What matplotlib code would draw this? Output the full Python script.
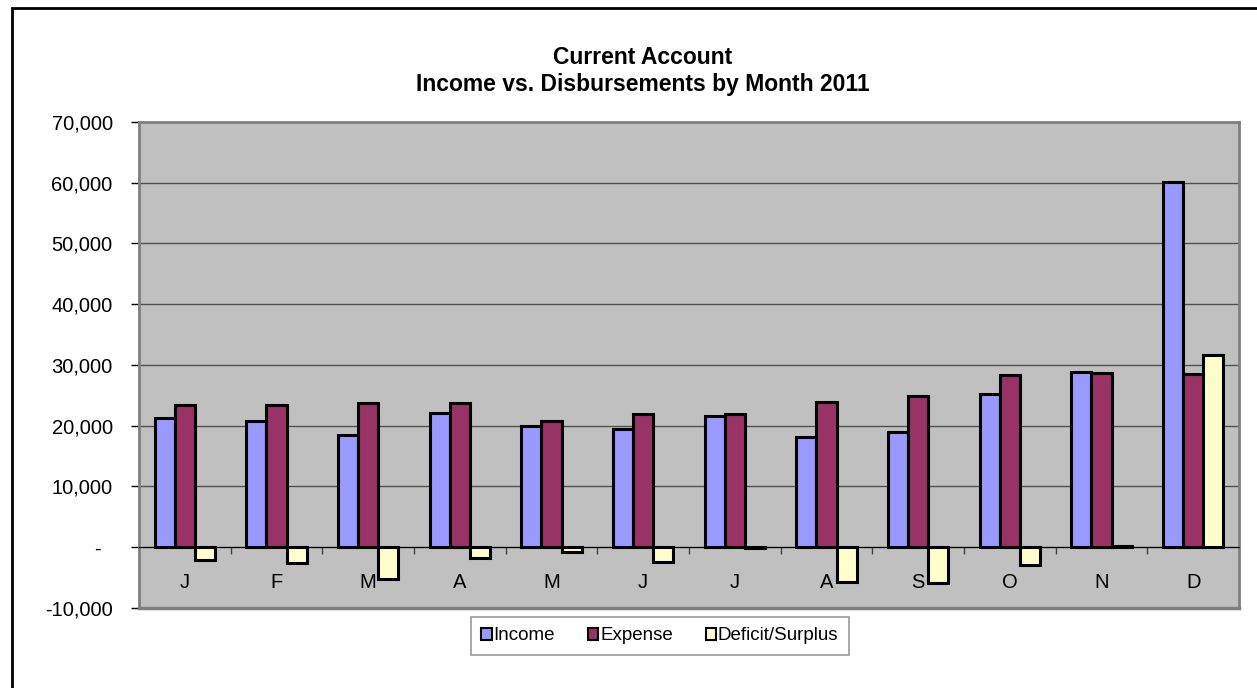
import numpy as np
import matplotlib
matplotlib.use('Agg')
import matplotlib.pyplot as plt
from matplotlib.patches import Rectangle
from matplotlib.ticker import FuncFormatter

# 데이터
months = ['J', 'F', 'M', 'A', 'M', 'J', 'J', 'A', 'S', 'O', 'N', 'D']
income = [21300, 20850, 18550, 22050, 19950, 19400, 21600, 18200, 18950, 25250, 28900, 60150]
expense = [23400, 23400, 23750, 23750, 20850, 21850, 21850, 23900, 24900, 28300, 28750, 28550]
deficit = [-2100, -2550, -5200, -1750, -850, -2350, -150, -5700, -5850, -2950, 150, 31600]

plt.rcParams['font.family'] = ['Liberation Sans', 'DejaVu Sans']

fig = plt.figure(figsize=(12.57, 6.88), dpi=100)
fig.set_facecolor('white')

# 바깥 테두리 (오른쪽/아래는 잘려 있음)
fig.patches.append(Rectangle((0.0095, -0.05), 1.05, 1.0378, transform=fig.transFigure,
                             fill=False, edgecolor='black', linewidth=2))

ax = fig.add_axes([0.1106, 0.1163, 0.8751, 0.7064])
ax.set_facecolor('#C0C0C0')

x = np.arange(len(months))
w = 0.22
ax.bar(x - w, income, w, color='#9999FF', edgecolor='black', linewidth=2.2, label='Income', zorder=3)
ax.bar(x, expense, w, color='#993366', edgecolor='black', linewidth=2.2, label='Expense', zorder=3)
ax.bar(x + w, deficit, w, color='#FFFFCC', edgecolor='black', linewidth=2.2, label='Deficit/Surplus', zorder=3)

ax.set_xlim(-0.5, 11.5)
ax.set_ylim(-10000, 70000)
ax.set_yticks(range(-10000, 70001, 10000))
ax.yaxis.set_major_formatter(FuncFormatter(lambda v, p: '-  ' if v == 0 else f'{int(v):,}'))
ax.tick_params(axis='y', labelsize=14.5, length=6, width=1, color='black', pad=13)
ax.grid(True, axis='y', color='#505050', linewidth=1, zorder=1)

# x축 : 0 위치, 구간 경계에 눈금
ax.spines['bottom'].set_position(('data', 0))
ax.spines['bottom'].set_zorder(4)
ax.set_xticks(np.arange(0.5, 11.5, 1))
ax.set_xticklabels([])
ax.tick_params(axis='x', length=5, width=1, direction='out', color='#404040')
for i, m in enumerate(months):
    ax.text(i, -5750, m, ha='center', va='center', fontsize=14.5)

# 플롯 영역 테두리
for s in ['top', 'right', 'left']:
    ax.spines[s].set_color('#808080')
    ax.spines[s].set_linewidth(2)
ax.plot([0, 1], [0, 0], transform=ax.transAxes, color='#808080', linewidth=2.5, clip_on=False, zorder=5)

# 제목 (두 줄)
fig.text(0.5115, 1 - 58 / 688, 'Current Account', ha='center', va='center',
         fontsize=16.5, fontweight='bold')
fig.text(0.5115, 1 - 85 / 688, 'Income vs. Disbursements by Month 2011', ha='center', va='center',
         fontsize=16.5, fontweight='bold')

leg = ax.legend(loc='center', bbox_to_anchor=(0.525, 0.0756), bbox_transform=fig.transFigure,
                ncol=3, fancybox=False, edgecolor='#808080', fontsize=13.5,
                handlelength=0.55, handleheight=0.55, handletextpad=0.1, columnspacing=1.75,
                borderpad=0.55, borderaxespad=0)
leg.get_frame().set_linewidth(1.2)
for h in leg.legend_handles:
    h.set_linewidth(1.5)

plt.savefig('out.png', dpi=100)
plt.close()
